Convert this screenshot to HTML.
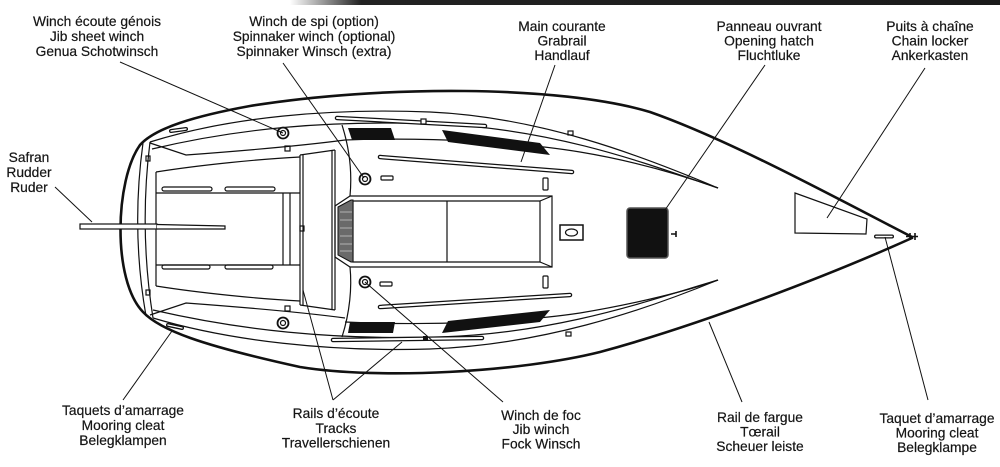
<!DOCTYPE html>
<html><head><meta charset="utf-8">
<style>
html,body{margin:0;padding:0;background:#fff;}
svg{display:block;}
text{font-family:"Liberation Sans",Arial,sans-serif;font-size:13.8px;fill:#151515;stroke:#151515;stroke-width:0.2;text-anchor:middle;}
</style></head><body>
<svg width="1000" height="467" viewBox="0 0 1000 467" xmlns="http://www.w3.org/2000/svg">
<defs>
<linearGradient id="bar" x1="0" x2="1"><stop offset="0" stop-color="#222" stop-opacity="0"/><stop offset="0.1" stop-color="#222"/><stop offset="1" stop-color="#1a1a1a"/></linearGradient>
</defs>
<rect x="290" y="0" width="710" height="5" fill="url(#bar)"/>

<!-- hull outline -->
<path d="M912,237 C840,200 730,140 650,112 C560,85 380,85 250,106 C195,116 155,128 140,145 C115,180 112,280 143,312 C160,330 200,345 300,367 C380,380 520,372 600,352 C700,325 830,275 912,238 Z" fill="#fff" stroke="#111" stroke-width="2.6"/>

<g fill="none" stroke="#111" stroke-width="1.2">
  <!-- transom -->
  <path d="M143,143 Q131,230 146,316"/>
  <path d="M150,142 Q139,230 153,318"/>
  <!-- deck lines top -->
  <path d="M150,142 C230,117 330,108 430,112 C540,117 640,155 718,188"/>
  <path d="M152,149 C240,128 330,120 440,124 C560,130 650,165 718,188"/>
  <path d="M345,140 C430,137 520,142 580,152 C640,162 690,178 718,188"/>
  <!-- deck lines bottom -->
  <path d="M153,318 C230,341 330,352 430,349 C540,345 640,312 718,280"/>
  <path d="M153,310 C240,330 330,340 440,337 C560,333 650,300 718,280"/>
  <path d="M345,322 C430,326 520,322 580,313 C640,303 690,290 718,280"/>
  <!-- coaming -->
  <path d="M150,143 L186,155 C240,151 300,146 345,140"/>
  <path d="M150,315 L186,303 C240,307 300,312 345,318"/>
  <!-- cockpit -->
  <path d="M156,172 C200,165 260,159 300,157"/>
  <path d="M156,286 C200,293 260,299 300,301"/>
  <path d="M156,172 L156,286"/>
  <path d="M156,193 L300,193 M156,265 L300,265"/>
  <path d="M283,193 L283,265 M290,193 L290,265"/>
  <!-- bridge deck -->
  <path d="M300,155 L300,305 M303,155 L303,305"/>
  <path d="M332,150 L332,310 M335,150 L335,310"/>
  <path d="M300,155 L335,150 M300,305 L335,310"/>
  <!-- cabin aft wall -->
  <path d="M342,125 C350,150 352,175 350,196"/>
  <path d="M342,337 C350,312 352,287 350,267"/>
  <!-- companionway hatch -->
  <path d="M350,196 L552,196 L552,267 L350,267 L335,257 L335,206 Z"/>
  <path d="M353,201 L540,201 L540,262 L353,262 Z"/>
  <path d="M540,201 L552,196 M540,262 L552,267 M447,201 L447,262"/>
  <!-- chain locker -->
  <path d="M795,193 L867,219 L866,234 L795,233 Z"/>
  <!-- center hatch -->
  <rect x="560" y="225" width="23" height="15" stroke-width="1.5"/>
  <ellipse cx="571.5" cy="232.5" rx="6" ry="3.5"/>
  <!-- small squares -->
  <rect x="285" y="146" width="5" height="5"/>
  <rect x="285" y="306" width="5" height="5"/>
  <rect x="146" y="156" width="4" height="5"/>
  <rect x="146" y="290" width="4" height="5"/>
  <rect x="300" y="226" width="4" height="5"/>
  <rect x="568" y="131" width="5" height="4"/>
  <rect x="566" y="332" width="5" height="4"/>
  <rect x="381" y="176" width="12" height="4" rx="1"/>
  <rect x="380" y="282" width="12" height="4" rx="1"/>
  <rect x="543" y="178" width="5" height="12" rx="1"/>
  <rect x="543" y="276" width="5" height="12" rx="1"/>
  <!-- cushions -->
  <rect x="162" y="187" width="50" height="4" rx="2"/>
  <rect x="225" y="187" width="50" height="4" rx="2"/>
  <rect x="162" y="265" width="48" height="4" rx="2"/>
  <rect x="225" y="265" width="48" height="4" rx="2"/>
  <!-- tiller -->
  <rect x="80" y="224" width="77" height="5" fill="#fff"/>
  <path d="M157,224.5 L225,226 L225,229 L157,229" fill="#fff"/>
  <!-- winches -->
  <circle cx="283" cy="133" r="5.5" stroke-width="1.8"/>
  <circle cx="283" cy="133" r="2.5"/>
  <circle cx="283" cy="323" r="5.5" stroke-width="1.8"/>
  <circle cx="283" cy="323" r="2.5"/>
  <circle cx="365" cy="179" r="5.5" stroke-width="1.8"/>
  <circle cx="365" cy="179" r="2.5"/>
  <circle cx="365" cy="282" r="5.5" stroke-width="1.8"/>
  <circle cx="365" cy="282" r="2.5"/>
  <!-- T fitting & bow -->
  <path d="M671,234 L676,234 M676,231 L676,237" stroke-width="1.6"/>
  <path d="M906,236.5 L918,236.5 M910,233 L910,240 M915,233 L915,240" stroke-width="1.6"/>
</g>

<!-- tracks and grabrails -->
<g stroke-linecap="round" fill="none">
  <path d="M337,118 L485,126" stroke="#111" stroke-width="4.5"/>
  <path d="M337,118 L485,126" stroke="#fff" stroke-width="2"/>
  <path d="M333,340 L482,338" stroke="#111" stroke-width="4.5"/>
  <path d="M333,340 L482,338" stroke="#fff" stroke-width="2"/>
  <path d="M380,157 L572,172" stroke="#111" stroke-width="4.5"/>
  <path d="M380,157 L572,172" stroke="#fff" stroke-width="2"/>
  <path d="M380,307 L570,295" stroke="#111" stroke-width="4.5"/>
  <path d="M380,307 L570,295" stroke="#fff" stroke-width="2"/>
  <path d="M171,131 L186,129" stroke="#111" stroke-width="4"/>
  <path d="M171,131 L186,129" stroke="#fff" stroke-width="1.4"/>
  <path d="M168,325 L182,328" stroke="#111" stroke-width="4"/>
  <path d="M168,325 L182,328" stroke="#fff" stroke-width="1.4"/>
  <path d="M876,236.5 L892,236.5" stroke="#111" stroke-width="4"/>
  <path d="M876,236.5 L892,236.5" stroke="#fff" stroke-width="1.4"/>
</g>
<rect x="421" y="119" width="5" height="5" fill="#fff" stroke="#111" stroke-width="1.2"/>
<rect x="423" y="336" width="5" height="5" fill="#111"/>

<!-- black fills -->
<g fill="#111">
  <polygon points="348,128 391,128 395,140 352,140"/>
  <polygon points="350,322 395,322 393,333 348,333"/>
  <polygon points="442,130 540,143 550,155 448,142"/>
  <polygon points="448,321 550,310 540,322 442,333"/>
  <rect x="627" y="208" width="41" height="50" rx="3" stroke="#555" stroke-width="1.5"/>
</g>
<!-- drop boards -->
<polygon points="338,207 351,200 353,200 353,262 351,262 338,255" fill="#6a6a6a" stroke="#111" stroke-width="1"/>
<g stroke="#ccc" stroke-width="0.8">
  <path d="M340,212 L352,212 M340,220 L352,220 M340,228 L352,228 M340,236 L352,236 M340,244 L352,244 M340,251 L352,251"/>
</g>

<!-- leader lines -->
<g stroke="#111" stroke-width="1">
  <line x1="120" y1="62" x2="283" y2="133"/>
  <line x1="283" y1="63" x2="364" y2="178"/>
  <line x1="555" y1="65" x2="521" y2="162"/>
  <line x1="765" y1="65" x2="665" y2="210"/>
  <line x1="925" y1="68" x2="827" y2="218"/>
  <line x1="55" y1="187" x2="92" y2="222"/>
  <line x1="123" y1="400" x2="172" y2="331"/>
  <line x1="333" y1="400" x2="303" y2="290"/>
  <line x1="333" y1="400" x2="402" y2="342"/>
  <line x1="365" y1="282" x2="503" y2="402"/>
  <line x1="742" y1="402" x2="709" y2="322"/>
  <line x1="928" y1="400" x2="885" y2="237"/>
</g>

<!-- labels -->
<text x="97" y="26">Winch écoute génois</text>
<text x="97" y="41">Jib sheet winch</text>
<text x="97" y="56">Genua Schotwinsch</text>

<text x="314" y="26">Winch de spi (option)</text>
<text x="314" y="41">Spinnaker winch (optional)</text>
<text x="314" y="56">Spinnaker Winsch (extra)</text>

<text x="562" y="31">Main courante</text>
<text x="562" y="45.5">Grabrail</text>
<text x="562" y="60">Handlauf</text>

<text x="769" y="31">Panneau ouvrant</text>
<text x="769" y="45.5">Opening hatch</text>
<text x="769" y="60">Fluchtluke</text>

<text x="930" y="31">Puits à chaîne</text>
<text x="930" y="45.5">Chain locker</text>
<text x="930" y="60">Ankerkasten</text>

<text x="29" y="162">Safran</text>
<text x="29" y="177">Rudder</text>
<text x="29" y="192">Ruder</text>

<text x="123" y="415">Taquets d’amarrage</text>
<text x="123" y="430">Mooring cleat</text>
<text x="123" y="445">Belegklampen</text>

<text x="336" y="418">Rails d’écoute</text>
<text x="336" y="433">Tracks</text>
<text x="336" y="447.5">Travellerschienen</text>

<text x="541" y="420">Winch de foc</text>
<text x="541" y="434">Jib winch</text>
<text x="541" y="448.5">Fock Winsch</text>

<text x="760" y="422">Rail de fargue</text>
<text x="760" y="436.5">Tœrail</text>
<text x="760" y="451">Scheuer leiste</text>

<text x="937" y="423">Taquet d’amarrage</text>
<text x="937" y="437.5">Mooring cleat</text>
<text x="937" y="452">Belegklampe</text>
</svg>
</body></html>
